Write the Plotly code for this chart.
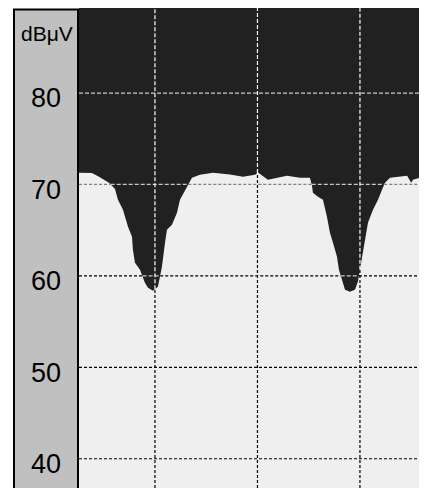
import numpy as np
import plotly.graph_objects as go

# --- data ---
freq = [2.59, 3.17, 3.85, 4.54, 5.02, 5.51, 5.80, 6.10, 6.39, 6.88, 7.37, 7.76, 7.85, 7.95,
        8.05, 8.54, 8.83, 9.02, 9.32, 9.80, 10.29, 10.49, 10.68, 10.98, 11.17, 11.66, 12.15,
        12.44, 13.12, 13.61, 14.39, 15.66, 17.32, 18.59, 19.76, 20.05, 21.02, 22.20, 22.88,
        24.15, 25.12, 25.32, 25.41, 25.90, 26.39, 26.78, 27.07, 27.37, 27.76, 27.95, 28.24,
        28.54, 29.02, 29.51, 29.80, 30.00, 30.20, 30.49, 30.78, 31.27, 31.76, 32.15, 32.44,
        32.93, 33.90, 34.60, 35.00, 35.17, 35.85, 36.54]
level = [71.28, 71.30, 71.26, 70.84, 70.51, 70.19, 69.86, 69.50, 68.33, 67.23, 65.37, 64.28,
         62.86, 61.76, 61.43, 60.67, 59.90, 59.25, 58.70, 58.37, 58.81, 59.90, 61.00, 63.62,
         65.04, 65.59, 66.90, 68.33, 69.75, 70.73, 71.06, 71.28, 71.10, 70.84, 71.06, 71.30,
         70.51, 70.84, 70.95, 70.73, 70.73, 69.86, 69.09, 68.65, 68.33, 66.47, 64.72, 63.62,
         62.09, 60.67, 59.57, 58.48, 58.26, 58.48, 59.35, 60.67, 62.09, 63.62, 65.81, 67.23,
         68.33, 69.42, 70.19, 70.73, 70.84, 70.95, 70.20, 70.51, 70.73, 70.73]
x_grid = [10, 20, 30]
y_ticks = [40, 50, 60, 70, 80]
y_tick_text = ["40", "50", "60", "70", "80"]
unit_label = "dBμV"

X_RANGE = [2.59, 36.54]
Y_RANGE = [36.8, 89.3]

DARK = "#212121"
LIGHT = "#efefef"

fig = go.Figure()

# light region below the measured level
fig.add_trace(go.Scatter(x=freq, y=level, mode="lines", line=dict(width=0, color=DARK),
                         fill="tozeroy", fillcolor=LIGHT, hoverinfo="skip", showlegend=False))

# grid lines: colour depends on whether they cross the dark or the light region
fx = np.linspace(X_RANGE[0], X_RANGE[1], 3000)
fv = np.interp(fx, freq, level)
for yl in y_ticks:
    dark_mask = fv < yl
    yd = np.where(dark_mask, yl, np.nan)
    yli = np.where(~dark_mask, yl, np.nan)
    light_col = "#808080" if yl == 70 else "#000000"
    fig.add_trace(go.Scatter(x=fx, y=yli, mode="lines", connectgaps=False,
                             line=dict(color=light_col, width=1.2, dash="3px,2px"),
                             hoverinfo="skip", showlegend=False))
    fig.add_trace(go.Scatter(x=fx, y=yd, mode="lines", connectgaps=False,
                             line=dict(color="#c8c8c8", width=1.2, dash="4px,2px"),
                             hoverinfo="skip", showlegend=False))
for xg in x_grid:
    cv = float(np.interp(xg, freq, level))
    fig.add_trace(go.Scatter(x=[xg, xg], y=[Y_RANGE[0], cv], mode="lines",
                             line=dict(color="#000000", width=1.2, dash="3px,2px"),
                             hoverinfo="skip", showlegend=False))
    fig.add_trace(go.Scatter(x=[xg, xg], y=[cv, Y_RANGE[1]], mode="lines",
                             line=dict(color="#ffffff", width=1.2, dash="4px,2px"),
                             hoverinfo="skip", showlegend=False))

# page body has an 8px margin; figure coordinates are offset by it
W, H = 419, 480
L, T = 71, 0
pw, ph = W - L, H - T

fig.update_layout(
    width=W, height=H,
    margin=dict(l=L, r=0, t=T, b=0, pad=0),
    paper_bgcolor="#ffffff",
    plot_bgcolor=DARK,
    showlegend=False,
    xaxis=dict(range=X_RANGE, showgrid=False, zeroline=False, showticklabels=False,
               ticks="", showline=False, fixedrange=True),
    yaxis=dict(range=Y_RANGE, showgrid=False, zeroline=False, tickvals=y_ticks,
               ticktext=y_tick_text, ticks="", showline=False,
               tickfont=dict(family="Liberation Sans, Arial", size=27, color="#000000"),
               ticklabelstandoff=17, ticklabelshift=5, fixedrange=True),
    shapes=[dict(type="rect", xref="paper", yref="paper",
                 x0=(6 - L) / pw, x1=(70 - L) / pw,
                 y0=-0.05, y1=1 - 1.5 / ph,
                 fillcolor="#c0c0c0", line=dict(color="#000000", width=2), layer="below")],
    annotations=[dict(text=unit_label, xref="paper", yref="paper",
                      x=(39 - L) / pw, y=1 - 25 / ph, xanchor="center", yanchor="middle",
                      showarrow=False,
                      font=dict(family="Liberation Sans, Arial", size=21, color="#000000"))],
)

fig.write_html("out.html")
